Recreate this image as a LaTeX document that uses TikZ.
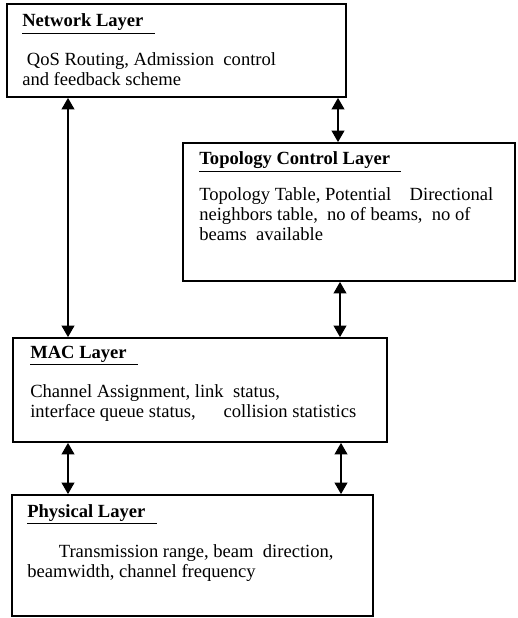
\documentclass[tikz,border=0pt]{standalone}
\usepackage{fontspec}
\setmainfont{Liberation Serif}
\usetikzlibrary{arrows.meta,fit}

\tikzset{
  layerbox/.style={draw, line width=1.3pt, inner sep=0pt},
  ttl/.style={anchor=base west, inner sep=0pt, font=\fontsize{13}{14.5}\selectfont\bfseries},
  txt/.style={anchor=north west, inner sep=0pt, align=left},
  link/.style={{Triangle[length=8pt,width=9pt]}-{Triangle[length=8pt,width=9pt]}, line width=0.8pt},
}
\newcommand{\ttlline}[1]{\underline{#1\hspace{0.6em}}}

\begin{document}
\begin{tikzpicture}[x=0.7pt, y=-0.7pt, font=\fontsize{13}{14.2}\selectfont]
  \useasboundingbox (0,0) rectangle (517,618);

  % layers
  \node[layerbox, fit={(7,4) (346,97)}] (net) {};
  \node[layerbox, fit={(183,143) (515,281)}] (topo) {};
  \node[layerbox, fit={(13,338) (387,442)}] (mac) {};
  \node[layerbox, fit={(12,495) (373,616)}] (phy) {};

  \node[ttl] (netT) at (22,27) {\ttlline{Network Layer}};
  \node[txt] (netB) at (22,52) {\hspace*{0.25em}QoS Routing, Admission\ \ control\\and feedback scheme};

  \node[ttl] (topoT) at (199,165) {\ttlline{Topology Control Layer}};
  \node[txt] (topoB) at (199,187) {Topology Table, Potential\quad Directional\\neighbors table,\ \ no of beams,\ \ no of\\beams\ \ available};

  \node[ttl] (macT) at (30,358) {\ttlline{MAC Layer}};
  \node[txt] (macB) at (30,384) {Channel Assignment, link\ \ status,\\interface queue status,\hspace{1.5em}collision statistics};

  \node[ttl] (phyT) at (27,517) {\ttlline{Physical Layer}};
  \node[txt] (phyB) at (27,544) {\hspace*{1.7em}Transmission range, beam\ \ direction,\\beamwidth, channel frequency};

  % connectors
  \coordinate (lx) at (68,0);
  \coordinate (rxa) at (338,0);
  \coordinate (rxb) at (340,0);
  \coordinate (rxc) at (341,0);
  \draw[link] (net.south -| rxa) -- (topo.north -| rxa);
  \draw[link] (net.south -| lx) -- (mac.north -| lx);
  \draw[link] (topo.south -| rxb) -- (mac.north -| rxb);
  \draw[link] (mac.south -| lx) -- (phy.north -| lx);
  \draw[link] (mac.south -| rxc) -- (phy.north -| rxc);
\end{tikzpicture}
\end{document}
